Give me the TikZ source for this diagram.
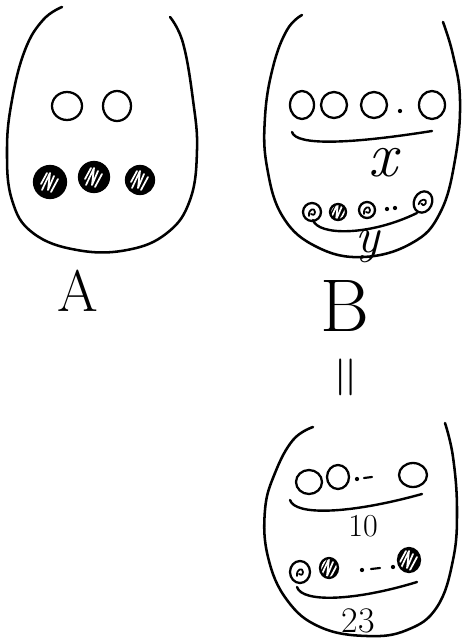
\documentclass[tikz,border=0pt]{standalone}
\usetikzlibrary{positioning, shapes.geometric}
\tikzset{
  every picture/.style={line width=1.6pt, line cap=round, line join=round},
  bag/.style={draw, line width=1.9pt},
  ball/.style args={#1/#2}{ellipse, draw, line width=1.7pt, inner sep=0pt,
    minimum width=#1*0.75pt, minimum height=#2*0.75pt},
  dark/.style args={#1/#2}{ball=#1/#2, fill=black,
    path picture={
      \begin{scope}[shift={(path picture bounding box.center)}, scale=#1/30]
        \draw[white, line width=1.3pt] (-9,2) -- (-3,-9) (-8,8) -- (0,-9) -- (-2,8) -- (4,-6) (1,10) -- (8,-3);
      \end{scope}}},
  swirl/.style args={#1/#2}{ball=#1/#2,
    path picture={
      \begin{scope}[shift={(path picture bounding box.center)}, scale=#1/20]
        \draw[line width=1.3pt] (-3,4) .. controls (-4,-3) and (3,-5) .. (3,0) .. controls (3,3) and (0,4) .. (-1,2);
      \end{scope}}},
  dot/.style={circle, fill=black, inner sep=0pt, minimum size=3.2pt},
  brace/.style={draw, line width=1.8pt},
  tag/.style={inner sep=0pt, font=\fontsize{#1}{#1}\selectfont},
}

\begin{document}
\begin{tikzpicture}[x=0.75pt, y=-0.75pt]
  \useasboundingbox (0,0) rectangle (461,639);

  % bag A
  \draw[bag] plot[smooth, tension=0.7] coordinates {(62,7) (43,20) (25,50) (12,100) (7,150) (12,200) (33,233) (77,250) (127,250) (167,233) (190,200) (197,150) (193,100) (183,43) (170,17)};
  \node[ball=30/28] (a1) at (67,106) {};
  \node[ball=28/30] (a2) at (117,106) {};
  \node[dark=32/32] (a3) at (50,182) {};
  \node[dark=30/30] (a4) at (94,177) {};
  \node[dark=28/28] (a5) at (140,180) {};
  \node[tag=44] (labA) at (78,291) {A};

  % bag B
  \draw[bag] plot[smooth, tension=0.7] coordinates {(302,15) (287,30) (273,67) (265,117) (267,167) (283,217) (317,247) (363,257) (412,243) (440,213) (455,160) (460,100) (453,55) (443,22)};
  \node[ball=24/28] (b1) at (302,105) {};
  \node[ball=26/26] (b2) at (334,105) {};
  \node[ball=26/26] (b3) at (374,105) {};
  \node[dot] (bd) at (400,111) {};
  \node[ball=26/28] (b4) at (432,105) {};
  \coordinate (bx1) at (292,132);
  \coordinate (bx2) at (432,131);
  \draw[brace] (bx1) .. controls (296,146) and (350,144) .. (bx2);
  \node[tag=48] (labx) at (383,163) {\itshape x};

  \node[swirl=18/18] (b5) at (312,212) {};
  \node[dark=16/16] (b6) at (338,212) {};
  \node[swirl=16/16] (b7) at (367,210) {};
  \node[dot] (bd1) at (387,209) {};
  \node[dot] (bd2) at (395,208) {};
  \node[swirl=18/22, rotate=-25] (b8) at (423,202) {};
  \coordinate (by1) at (313,220);
  \coordinate (by2) at (417,213);
  \draw[brace] (by1) .. controls (318,236) and (370,236) .. (by2);
  \node[tag=38] (laby) at (368,246) {\itshape y};
  \node[tag=56] (labB) at (345,306) {B};

  \node[tag=44, rotate=90] (eq) at (350,377) {=};

  % bag C
  \draw[bag] plot[smooth, tension=0.7] coordinates {(313,427) (293,440) (275,473) (265,510) (268,557) (287,600) (320,627) (367,636) (407,630) (437,607) (453,560) (457,510) (453,457) (445,423)};
  \node[ball=26/24] (c1) at (309,482) {};
  \node[ball=22/24] (c2) at (338,477) {};
  \node[dot] (cd) at (357,479) {};
  \coordinate (cs1) at (364,478);
  \coordinate (cs2) at (372,477);
  \draw (cs1) -- (cs2);
  \node[ball=28/24] (c3) at (413,475) {};
  \coordinate (ct1) at (290,500);
  \coordinate (ct2) at (422,494);
  \draw[brace] (ct1) .. controls (295,516) and (350,514) .. (ct2);
  \node[tag=24] (lab10) at (363,526) {10};

  \node[swirl=20/22] (c4) at (300,572) {};
  \node[dark=18/20] (c5) at (329,568) {};
  \node[dot] (cd1) at (362,570) {};
  \coordinate (cs3) at (371,569);
  \coordinate (cs4) at (380,568);
  \draw (cs3) -- (cs4);
  \node[dot] (cd2) at (393,567) {};
  \node[dark=22/24] (c6) at (409,560) {};
  \coordinate (cb1) at (297,587);
  \coordinate (cb2) at (417,582);
  \draw[brace] (cb1) .. controls (302,603) and (355,601) .. (cb2);
  \node[tag=27] (lab23) at (358,621) {23};
\end{tikzpicture}
\end{document}
